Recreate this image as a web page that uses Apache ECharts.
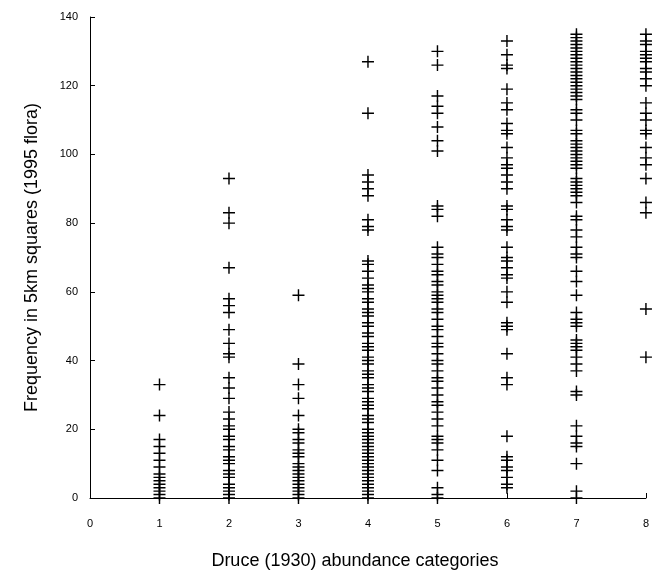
<!DOCTYPE html>
<html>
<head>
<meta charset="utf-8">
<script src="https://cdn.jsdelivr.net/npm/echarts@6/dist/echarts.min.js"></script>
<style>
  html, body { margin: 0; padding: 0; background: #fff; }
  #chart { width: 652px; height: 575px; }
</style>
</head>
<body>
<div id="chart"></div>
<script>
// frequency values (1995 flora) per Druce abundance category
const cat1 = [33, 24, 17, 15, 13, 11, 9, 7, 6, 5, 4, 3, 2, 1, 0];
const cat2 = [93, 83, 80, 67, 58, 56, 54, 49, 45, 42, 41, 35, 32, 29, 25, 23, 21, 20, 18, 17, 15, 14, 12, 11, 10, 8, 7, 6, 4, 3, 2, 1, 0];
const cat3 = [59, 39, 33, 29, 24, 20, 19, 17, 16, 14, 13, 12, 10, 9, 8, 7, 6, 5, 4, 3, 2, 1, 0];
const cat4 = [127, 112, 94, 92, 90, 88, 81, 79, 78, 69, 68, 66, 64, 62, 61, 60, 58, 57, 55, 54, 53, 51, 50, 48, 47, 45, 44, 43, 41, 40, 39, 37, 36, 35, 33, 32, 31, 29, 28, 27, 26, 24, 23, 22, 20, 19, 18, 17, 16, 15, 14, 13, 12, 11, 10, 9, 8, 7, 6, 5, 4, 3, 2, 1, 0];
const cat5 = [130, 126, 117, 114, 112, 108, 104, 101, 85, 84, 82, 73, 71, 70, 68, 66, 65, 63, 62, 60, 59, 58, 57, 55, 54, 52, 50, 49, 47, 45, 44, 42, 40, 39, 37, 35, 34, 32, 30, 28, 27, 25, 23, 21, 18, 17, 16, 14, 11, 8, 3, 1, 0];
const cat6 = [133, 129, 126, 125, 119, 115, 113, 109, 107, 106, 102, 99, 97, 96, 94, 92, 90, 85, 84, 81, 79, 78, 73, 70, 69, 67, 65, 64, 60, 57, 51, 50, 49, 42, 35, 33, 18, 12, 11, 9, 8, 6, 4, 3];
const cat7 = [135, 134, 133, 132, 131, 130, 129, 128, 127, 126, 125, 124, 123, 122, 121, 120, 119, 118, 117, 116, 113, 112, 110, 107, 106, 104, 103, 102, 101, 100, 99, 98, 97, 96, 93, 92, 91, 90, 89, 88, 86, 82, 81, 78, 76, 73, 71, 70, 66, 63, 59, 54, 52, 51, 50, 46, 45, 44, 43, 41, 39, 37, 31, 30, 21, 18, 16, 15, 10, 2, 0];
const cat8 = [135, 133, 132, 130, 129, 128, 127, 125, 124, 122, 120, 115, 112, 110, 107, 106, 102, 99, 97, 93, 86, 83, 55, 41];

const categories = [1, 2, 3, 4, 5, 6, 7, 8];
const groups = [cat1, cat2, cat3, cat4, cat5, cat6, cat7, cat8];

const points = [];
groups.forEach((vals, i) => {
  vals.forEach(v => points.push([categories[i], v]));
});

const plus = 'path://M4.4,0H5.6V4.4H10V5.6H5.6V10H4.4V5.6H0V4.4H4.4Z';
const axisFont = 'Liberation Sans, Arial, sans-serif';

const chart = echarts.init(document.getElementById('chart'));
chart.setOption({
  animation: false,
  grid: { left: 90, right: 4, top: 17, bottom: 75, containLabel: false },
  xAxis: {
    type: 'value',
    min: 0, max: 8, interval: 1,
    name: 'Druce (1930) abundance categories',
    nameLocation: 'middle',
    nameGap: 54,
    nameTextStyle: { fontFamily: axisFont, fontSize: 18, color: '#000', padding: [0, 26, 0, 0] },
    axisLine: { show: true, onZero: false, lineStyle: { color: '#000', width: 1 } },
    axisTick: { show: true, inside: true, length: 5, lineStyle: { color: '#000' } },
    axisLabel: { fontFamily: axisFont, fontSize: 11, color: '#000', margin: 20 },
    splitLine: { show: false }
  },
  yAxis: {
    type: 'value',
    min: 0, max: 140, interval: 20,
    name: 'Frequency in 5km squares (1995 flora)',
    nameLocation: 'middle',
    nameGap: 49,
    nameTextStyle: { fontFamily: axisFont, fontSize: 18, color: '#000' },
    axisLine: { show: true, lineStyle: { color: '#000', width: 1 } },
    axisTick: { show: true, inside: true, length: 5, lineStyle: { color: '#000' } },
    axisLabel: { fontFamily: axisFont, fontSize: 11, color: '#000', margin: 12 },
    splitLine: { show: false }
  },
  series: [{
    type: 'scatter',
    data: points,
    symbol: plus,
    symbolSize: 12,
    itemStyle: { color: '#000', opacity: 1 }
  }]
});
</script>
</body>
</html>
